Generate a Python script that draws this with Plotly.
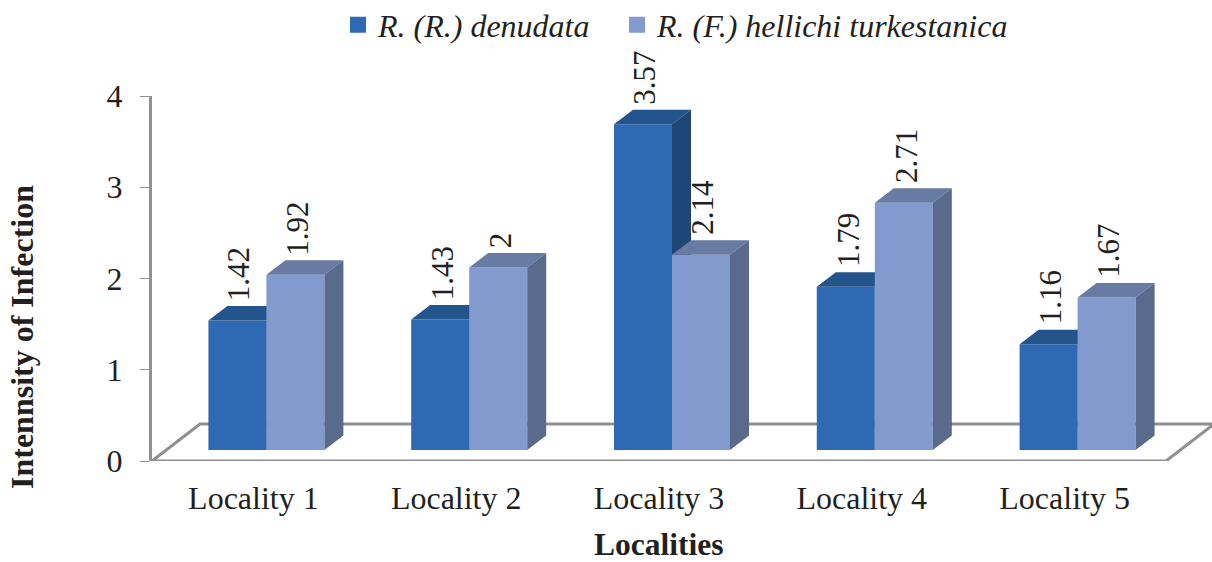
import plotly.graph_objects as go

localities = ["Locality 1", "Locality 2", "Locality 3", "Locality 4", "Locality 5"]
series_a_name = "R. (R.) denudata"
series_b_name = "R. (F.) hellichi turkestanica"
denudata = [1.42, 1.43, 3.57, 1.79, 1.16]
turkestanica = [1.92, 2.0, 2.14, 2.71, 1.67]
label_a = ["1.42", "1.43", "3.57", "1.79", "1.16"]
label_b = ["1.92", "2", "2.14", "2.71", "1.67"]
y_ticks = [0, 1, 2, 3, 4]

W, H = 1212, 562
L, R, T, B = 152, 0, 96, 101
PX_X = 202.8           # pixels per category
PX_Y = (H - T - B) / 4  # pixels per value unit
BAR_W = 58 / PX_X
DX, DY = 19 / PX_X, 14.5 / PX_Y       # bar depth
FX, FY = 48 / PX_X, 37 / PX_Y         # floor depth
BASE = 11 / PX_Y                      # bar base above the axis zero
SHIFT = 13 / PX_X                     # bars sit mid-floor
AX = "#8E9091"
TXT = "#231F20"
FONT = "Liberation Serif"


def faces(centers, vals):
    tx, ty, sx, sy = [], [], [], []
    for c, v in zip(centers, vals):
        l, r, t = c - BAR_W / 2, c + BAR_W / 2, BASE + v
        tx += [l, r, r + DX, l + DX, l, None]
        ty += [t, t, t + DY, t + DY, t, None]
        sx += [r, r + DX, r + DX, r, r, None]
        sy += [BASE, BASE + DY, t + DY, t, BASE, None]
    return tx, ty, sx, sy


mid = [i + 0.5 + SHIFT for i in range(5)]
xa = [m - BAR_W / 2 for m in mid]
xb = [m + BAR_W / 2 for m in mid]

fig = go.Figure()

# floor
fig.add_trace(go.Scatter(
    x=[0, 5, 5 + FX, FX, 0], y=[0, 0, FY, FY, 0], mode="lines",
    line=dict(color=AX, width=3), showlegend=False, hoverinfo="skip", cliponaxis=False))


def series(xs, vals, yaxis, front, top, side):
    fig.add_trace(go.Bar(x=xs, y=vals, base=BASE, width=BAR_W, yaxis=yaxis,
                         marker=dict(color=front, line=dict(width=0)),
                         showlegend=False, cliponaxis=False))
    tx, ty, sx, sy = faces(xs, vals)
    for fx, fy, col in ((tx, ty, top), (sx, sy, side)):
        fig.add_trace(go.Scatter(x=fx, y=fy, yaxis=yaxis, mode="lines", fill="toself",
                                 fillcolor=col, line=dict(width=0), showlegend=False,
                                 hoverinfo="skip", cliponaxis=False))


series(xa, denudata, "y2", "#2E6AB4", "#24548C", "#1F4674")
series(xb, turkestanica, "y3", "#829ACE", "#677BA3", "#5A6A8C")

# legend entries
for name, col, lg in ((series_a_name, "#2E6AB4", "legend"), (series_b_name, "#829ACE", "legend2")):
    fig.add_trace(go.Scatter(x=[None], y=[None], name=name, mode="markers", legend=lg,
                             marker=dict(symbol="square", size=16, color=col)))

annots = []
for xs, vals, labs in ((xa, denudata, label_a), (xb, turkestanica, label_b)):
    for x, v, s in zip(xs, vals, labs):
        annots.append(dict(x=x, y=BASE + v + DY, text=s, textangle=-90, showarrow=False,
                           xref="x", yref="y", xanchor="center", yanchor="bottom",
                           xshift=2, yshift=3,
                           font=dict(family=FONT, size=31, color=TXT)))
annots.append(dict(xref="paper", yref="paper", x=(658 - L) / (W - L), y=(H - B - 544) / (H - T - B),
                   text="<b>Localities</b>", showarrow=False, xanchor="center", yanchor="middle",
                   font=dict(family=FONT, size=31.5, color=TXT)))
annots.append(dict(xref="paper", yref="paper", x=(22 - L) / (W - L), y=(H - B - 337) / (H - T - B),
                   text="<b>Intennsity of Infection</b>", textangle=-90, showarrow=False,
                   xanchor="center", yanchor="middle",
                   font=dict(family=FONT, size=32, color=TXT)))

x_range = [0, (W - L) / PX_X]
legend_style = dict(xanchor="left", yanchor="middle", y=(H - B - 25) / (H - T - B),
                    font=dict(family=FONT, size=32, color=TXT, style="italic"),
                    bgcolor="rgba(0,0,0,0)")
fig.update_layout(
    width=W, height=H, autosize=False,
    margin=dict(l=L, r=R, t=T, b=B, pad=0, autoexpand=False),
    paper_bgcolor="white", plot_bgcolor="white",
    barmode="overlay",
    xaxis=dict(range=x_range, tickmode="array", tickvals=[i + 0.5 for i in range(5)],
               ticktext=localities, showgrid=False, zeroline=False, showline=False, ticks="",
               ticklen=0, ticklabelstandoff=15, tickfont=dict(family=FONT, size=32, color=TXT)),
    yaxis=dict(range=[0, 4], tickmode="array", tickvals=y_ticks, showgrid=False, zeroline=False,
               showline=True, linecolor=AX, linewidth=3, ticks="outside", ticklen=9, tickwidth=1,
               tickcolor=AX, ticklabelstandoff=11, tickfont=dict(family=FONT, size=32, color=TXT)),
    yaxis2=dict(range=[0, 4], overlaying="y", visible=False, matches="y"),
    yaxis3=dict(range=[0, 4], overlaying="y", visible=False, matches="y"),
    legend=dict(x=(338 - L) / (W - L), **legend_style),
    legend2=dict(x=(617 - L) / (W - L), **legend_style),
    annotations=annots,
    showlegend=True,
)
fig.write_html("out.html", config={"displayModeBar": False},
               post_script="document.body.style.margin='0';document.body.style.overflow='hidden';")
